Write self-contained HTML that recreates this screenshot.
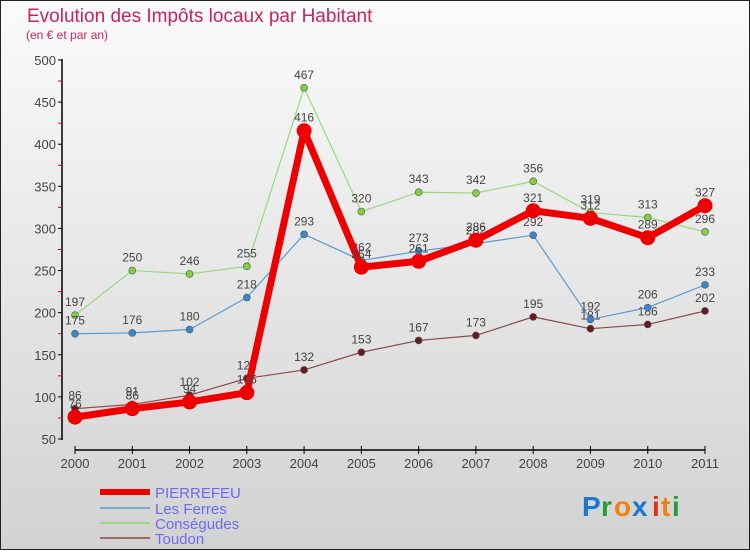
<!DOCTYPE html>
<html><head><meta charset="utf-8"><style>
body{margin:0}
svg text{font-family:"Liberation Sans",sans-serif}
</style></head><body>
<svg width="750" height="550" xmlns="http://www.w3.org/2000/svg">
<defs><linearGradient id="bg" x1="0" y1="0" x2="0" y2="1"><stop offset="0" stop-color="#fbfbfb"/><stop offset="1" stop-color="#d2d2d2"/></linearGradient></defs>
<rect x="0.5" y="0.5" width="749" height="549" fill="url(#bg)" stroke="#222"/>
<text x="27" y="22" font-size="19" fill="#c8245a">Evolution des Impôts locaux par Habitant</text>
<text x="26" y="39" font-size="12" fill="#c8245a">(en € et par an)</text>
<g id="axes"></g>
<g id="series"></g>
<g>
<line x1="100" y1="492" x2="150" y2="492" stroke="#ee0000" stroke-width="6"/>
<text x="155" y="498" font-size="15" fill="#6b6bee">PIERREFEU</text>
<line x1="100" y1="508" x2="150" y2="508" stroke="#7aaed0" stroke-width="2"/>
<text x="155" y="514" font-size="15" fill="#6b6bee">Les Ferres</text>
<line x1="100" y1="523" x2="150" y2="523" stroke="#98d880" stroke-width="2"/>
<text x="155" y="529" font-size="15" fill="#6b6bee">Conségudes</text>
<line x1="100" y1="538" x2="150" y2="538" stroke="#9a6a6a" stroke-width="2"/>
<text x="155" y="544" font-size="15" fill="#6b6bee">Toudon</text>
</g>
<g font-size="28" font-weight="bold">
<text x="582" y="516" fill="#1a78d0">P</text><text x="601" y="516" fill="#2a9a3a">r</text><text x="614" y="516" fill="#f08010">o</text><text x="632" y="516" fill="#1a78d0">x</text><text x="652" y="516" fill="#e03010">i</text><text x="661" y="516" fill="#f08010">t</text><text x="672" y="516" fill="#2a9a3a">i</text>
</g>
</svg>
<script>
const years=[2000,2001,2002,2003,2004,2005,2006,2007,2008,2009,2010,2011];
const yTicks=[50,100,150,200,250,300,350,400,450,500];
const pierrefeu=[76,86,94,105,416,254,261,286,321,312,289,327];
const lesFerres=[175,176,180,218,293,262,273,282,292,192,206,233];
const consegudes=[197,250,246,255,467,320,343,342,356,319,313,296];
const toudon=[86,91,102,122,132,153,167,173,195,181,186,202];
const NS="http://www.w3.org/2000/svg";
const X=i=>75+i*(630/11);
const Y=v=>439-(v-50)*(379/450);
function mk(t,a,p){const e=document.createElementNS(NS,t);for(const k in a)e.setAttribute(k,a[k]);p.appendChild(e);return e;}
const ax=document.getElementById('axes');
let yl=mk('line',{x1:62,y1:59,x2:62,y2:440,stroke:'#000','stroke-width':1.5},ax);


yTicks.forEach((v,i)=>{
 mk('line',{x1:58,y1:Y(v),x2:62,y2:Y(v),stroke:'#000'},ax);
 if(i<yTicks.length-1) mk('line',{x1:58,y1:Y(v+25),x2:62,y2:Y(v+25),stroke:'#e00'},ax);
 const t=mk('text',{x:56,y:Y(v)+5,'text-anchor':'end','font-size':13,fill:'#444'},ax);
 t.textContent=v;
 
 
});
let xl=mk('line',{x1:X(0),y1:450,x2:X(11),y2:450,stroke:'#000','stroke-width':1.5},ax);


years.forEach((y,i)=>{
 mk('line',{x1:X(i),y1:446,x2:X(i),y2:454,stroke:'#000'},ax);
 const t=mk('text',{x:X(i),y:468,'text-anchor':'middle','font-size':13,fill:'#444'},ax);
 t.textContent=y;
 
 
});
const sg=document.getElementById('series');
function draw(vals,color,w,r,dot,name){
 const g=mk('g',{},sg);
 
 
 mk('polyline',{points:vals.map((v,i)=>X(i)+','+Y(v)).join(' '),fill:'none',stroke:color,'stroke-width':w,'stroke-linejoin':'round'},g);
 vals.forEach((v,i)=>{
  const c=mk('circle',{cx:X(i),cy:Y(v),r:r,fill:dot,stroke:'#555','stroke-width':r>5?0:0.6},g);
  
  
  const t=mk('text',{x:X(i),y:Y(v)-9,'text-anchor':'middle','font-size':12,fill:'#444'},g);
  t.textContent=v;
  
  
 });
}
draw(toudon,'#8a4a4a',1.2,3.5,'#6a1a1a','series-toudon');
draw(consegudes,'#98d880',1.2,3.5,'#80d040','series-consegudes');
draw(lesFerres,'#5a9ad0',1.2,3.5,'#3a88cc','series-les-ferres');
draw(pierrefeu,'#ee0000',7,7.5,'#ee0000','series-pierrefeu');
</script>
</body></html>
